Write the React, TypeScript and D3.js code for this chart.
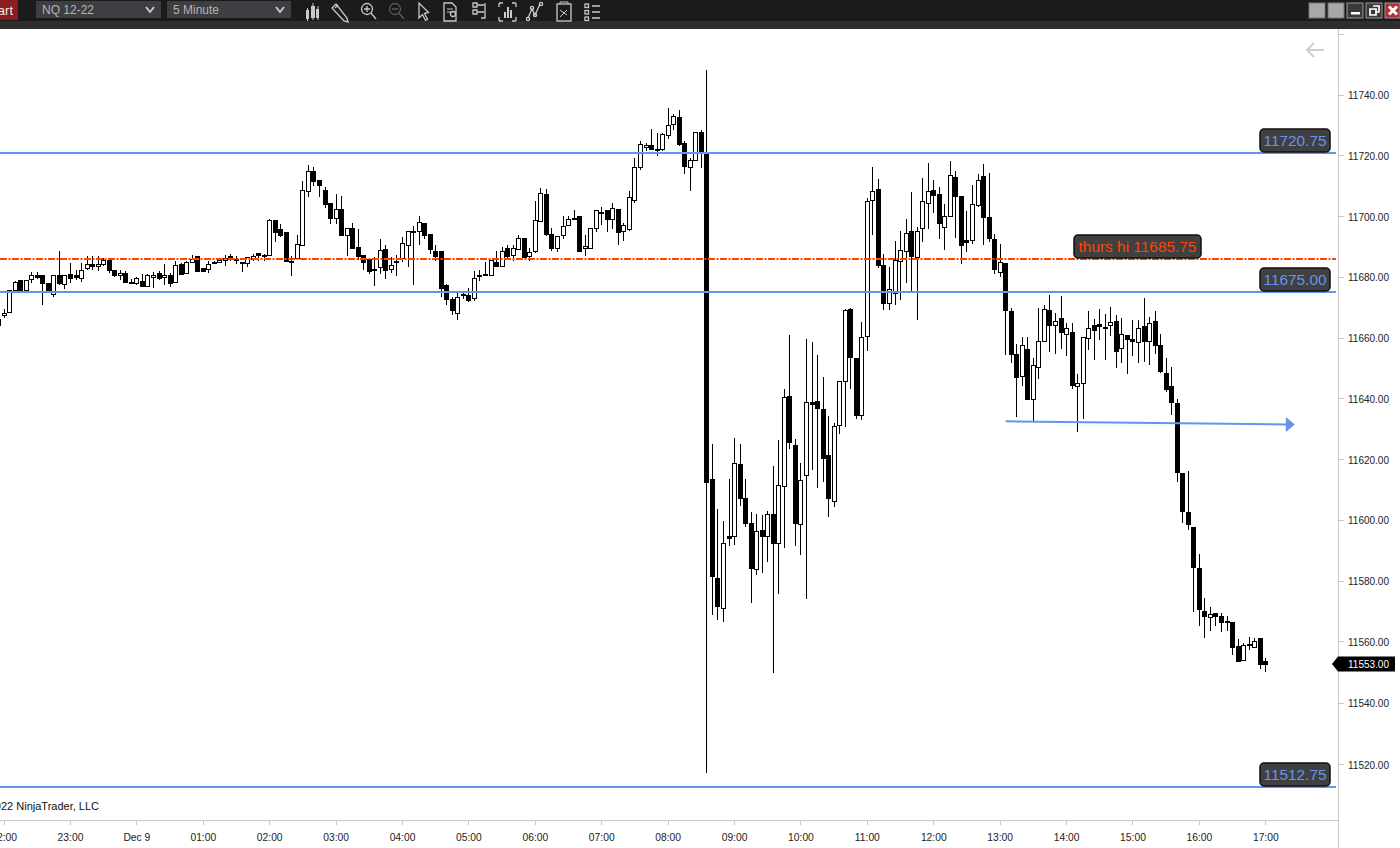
import React from "react";
import * as d3 from "d3";

type Bar = [number, number, number, number];

// Every bar is [open, high, low, close], 5 minute bars, first one at 21:55
const overnightA: Bar[] = [
  [11664.5,11668,11663,11666.5],[11667.5,11669.5,11666.75,11668.25],[11668.5,11676,11668.5,11675.75],[11676,11678.75,11675.5,11678.5],
  [11679,11679,11675.5,11675.5],[11675.75,11679,11675.75,11679],[11679.5,11681.75,11678.25,11680.75],[11680.75,11681.75,11679.5,11680.25],
  [11680.75,11680.75,11671,11678],[11678,11678,11674.75,11675.5],[11674.5,11680.75,11673.5,11680.75],[11680.75,11688.75,11677.5,11678.25],
  [11677.75,11680.75,11676.25,11680.75],[11681,11684.75,11678,11679.75],[11680.75,11682.5,11679.25,11680],[11679.75,11684.75,11678.5,11682.5],
  [11683,11687,11682.5,11684.5],[11684.5,11687,11682.5,11683.75],[11683.75,11687,11682,11684.25],[11684.5,11686.5,11683.75,11685.75],
  [11685.75,11685.75,11681.5,11682.5],[11682.5,11682.5,11680,11680.75],[11680.75,11682.5,11679.25,11681.5],[11681.5,11682,11678.5,11678.5],
  [11678.5,11679.5,11678,11678.5],[11678.25,11680.25,11677.5,11679.75],[11678.75,11681.25,11677,11677.25],[11677.25,11681.25,11677.25,11680.75],
  [11680,11681.75,11676.5,11680.75],[11681.5,11682,11679.25,11679.75],[11680,11684.5,11677.5,11680.75],[11680.75,11681.5,11677,11678],
  [11678.5,11685.25,11678.25,11684],[11684.5,11684.75,11680.75,11681],[11681.5,11685.25,11681,11685],[11685,11687.5,11684.75,11686],
  [11687,11687,11682,11682.25],[11683,11683,11681.75,11682],[11682.75,11685.25,11681.5,11684.5],[11685,11685.5,11684.25,11684.75],
  [11685,11686,11684.75,11685.75],[11685.75,11687.5,11683.75,11686.5],[11687,11687.75,11685.25,11686.5],[11686,11687,11684.25,11685.75],
];

const overnightB: Bar[] = [
  [11685,11685,11681.75,11684.75],[11684.75,11686.75,11683.5,11686.75],[11686,11687.75,11685.5,11687],[11688,11688,11685.5,11687.5],
  [11687.25,11687.75,11685.5,11687.25],[11687.25,11699,11687,11698.75],[11698.75,11698.75,11691.5,11695],[11696,11697.5,11693.25,11693.75],
  [11695,11695,11685,11685.25],[11685,11687,11680.5,11685.5],[11686.5,11693.75,11686.25,11691],[11690.5,11711.75,11690.25,11708.75],
  [11708.25,11717,11706.25,11715],[11715,11716.25,11710,11711.5],[11712,11712,11706.25,11710.25],[11708.75,11709.75,11702.75,11704],
  [11704.25,11704.25,11697.5,11699.5],[11699.5,11707.25,11697.5,11702.5],[11702.5,11706.75,11693.75,11693.75],[11693.75,11696.25,11687,11696.25],
  [11696.25,11697.75,11689.5,11689.75],[11690,11695.75,11685.75,11687],[11687.25,11687.25,11682.5,11685],[11686,11686,11681,11682.25],
  [11682.75,11686.75,11677.25,11682.5],[11683.25,11692.5,11681.25,11689],[11689.25,11690.75,11679.5,11682.5],[11682.75,11686.75,11681.5,11684],
  [11685,11687.25,11680.5,11685.5],[11686.25,11693.25,11685,11691.25],[11690.75,11695.25,11683.5,11695.25],[11695.25,11697,11677.5,11695.25],
  [11695.25,11700,11690.75,11698.25],[11697.75,11697.75,11692.5,11694],[11694.25,11694.25,11687.75,11689.25],[11688.75,11690.75,11685.5,11687],
  [11688.75,11688.75,11673.5,11676.5],[11677.5,11677.75,11671,11673],[11672.75,11673.5,11667.75,11669.25],[11668.25,11675,11666,11673.5],
  [11674.5,11675.5,11672.75,11674.5],[11674.25,11676.5,11672,11672.5],[11673.25,11682.25,11672.25,11679.75],[11680.75,11682.5,11678.75,11680.5],
];

const preMarket: Bar[] = [
  [11681,11685,11680.75,11681.25],[11680.75,11685.75,11680.5,11685.75],[11685,11688.75,11683.5,11683.75],[11683.75,11690,11683.5,11688.75],
  [11689.5,11690.5,11686.5,11687],[11687.5,11690.5,11685.25,11689.75],[11689.25,11693.75,11689,11693],[11693,11693,11686.25,11686.75],
  [11687,11689.75,11685.5,11688.25],[11688.5,11705,11688,11698.75],[11698.5,11709.25,11698.25,11707.75],[11707.25,11709,11693.5,11694.25],
  [11694.25,11696.25,11688.75,11689.5],[11689.75,11693.5,11688.25,11693.5],[11694,11700,11692.5,11696.75],[11697.25,11700,11696.75,11699.25],
  [11699.5,11702.25,11698.75,11699.25],[11700.25,11700.25,11688.5,11688.75],[11689.75,11694,11687,11690.25],[11689.75,11696.25,11689.5,11696.25],
  [11696.25,11702,11694.75,11702],[11701.5,11703,11697.25,11701.25],[11702,11702,11694.75,11699.25],[11699.25,11704.25,11695.75,11702.75],
  [11702.5,11702.5,11690.5,11695],[11695.25,11698,11692,11697.25],[11695.75,11708.25,11695.25,11706.25],[11705.5,11719.25,11704.25,11716.25],
  [11716.25,11724.75,11715.25,11723.75],[11722.75,11724.25,11721.5,11723.5],[11723.5,11728.75,11721.75,11722],[11722.25,11727.5,11719.75,11722],
  [11722,11727.5,11721.5,11727],[11726.75,11735.5,11725.25,11730],[11730.25,11733.5,11728.25,11733],[11732.75,11735,11723,11723.75],
  [11724,11724.75,11714,11716.5],[11716.25,11719.25,11708.25,11718.5],[11718.5,11727.75,11718.25,11727.75],[11727.75,11728.5,11715.75,11721.25],
  [11720.5,11748,11517.25,11613],
];

const morning: Bar[] = [
  [11614,11625.25,11569.25,11582],[11581.25,11604,11567.5,11572.25],[11571.5,11600,11567,11592.75],[11595.25,11614,11591.75,11594.5],
  [11595.25,11627.25,11592.25,11619],[11618.75,11625.25,11605,11607.5],[11607.5,11613.75,11598,11599.25],[11599.25,11603,11573.25,11584.5],
  [11584.25,11602.25,11582.25,11596.75],[11597,11602,11583,11595],[11595,11603.25,11586.5,11602.5],[11602.25,11618.25,11550.25,11592.75],
  [11593,11626.75,11576,11611.75],[11611.5,11643.25,11591.25,11640.75],[11641,11661.25,11623.75,11626],[11625,11627,11591.75,11599.25],
  [11599,11619,11589,11613.5],[11615,11659.75,11574.5,11639],[11639.25,11658.75,11616.75,11638.5],[11639.5,11654.5,11611,11637],
  [11636.75,11647.25,11612.75,11620.75],[11621.75,11634.5,11601.5,11607.75],[11606.75,11632.25,11604.5,11631.25],[11631.5,11646,11628.75,11646],
  [11646,11669.5,11631,11669.25],[11669.75,11670,11643.5,11653.75],[11653.5,11653.5,11633.5,11634.75],[11634.75,11665.25,11633.25,11660.5],
  [11660.75,11706,11656,11705],[11705.5,11716.25,11693.75,11708.25],[11709,11712.25,11683,11684],[11684,11687.75,11669.25,11671.75],
  [11671.75,11683.5,11669.25,11676.25],[11674.75,11692,11671,11685.75],[11685.5,11695.25,11672.5,11689],[11688.5,11699,11678.25,11694.5],
  [11695.25,11708,11674.75,11687],[11686.75,11696.5,11666,11695.25],[11696.25,11712.5,11691.75,11705],[11704.5,11717.5,11696,11708.25],
  [11708.75,11712,11701.25,11707],[11707.5,11709.75,11692.75,11698],[11696.5,11704,11689,11700.25],[11700.25,11718.25,11700,11713.75],
  [11713,11715,11693,11706.75],[11706.75,11706.75,11684.5,11690.75],[11692.25,11701.75,11688.25,11691.75],[11692.25,11710.25,11691,11704],
  [11703.75,11714,11703,11712],[11713.25,11717.25,11690.75,11699.75],[11699.75,11714.25,11691.75,11693],[11692.5,11694.25,11681,11682.75],
  [11681.75,11691,11680,11685],[11684.75,11684.75,11654.5,11669.25],[11669,11670,11651.75,11654.75],[11654.75,11658,11634.25,11647.25],
];

const afternoon: Bar[] = [
  [11647.5,11660.5,11644.25,11657.75],[11656.5,11660.5,11640,11640],[11640,11653.5,11632.75,11651.25],[11650.5,11670,11646.5,11659],
  [11659.25,11671,11658.75,11669.5],[11669.25,11674.25,11655.5,11664.25],[11664.5,11668.25,11655,11665.75],[11666.75,11674,11656.5,11662],
  [11661.5,11665,11654.25,11663.25],[11662,11665,11643.25,11644.75],[11644.5,11648.25,11629.25,11645.25],[11645.25,11660.5,11633.5,11660.5],
  [11660.25,11669,11656.25,11663.25],[11664.25,11666.5,11652.75,11662.75],[11664.75,11669.5,11659.5,11664],[11663.75,11668,11652.75,11663.25],
  [11664.5,11670.25,11660.75,11665.25],[11665.75,11667.5,11650.25,11655.75],[11656.75,11666.75,11652,11661.5],[11661,11661,11648.25,11659.75],
  [11659.75,11666,11654.25,11659],[11658.75,11666,11651.75,11663.25],[11664,11673.25,11652.25,11659],[11659,11667,11651.25,11665],
  [11665.75,11669,11655,11657.75],[11657.75,11661.5,11648.75,11649.25],[11648.5,11653.5,11642.25,11643.5],[11644.25,11650.5,11635,11639.25],
  [11638.75,11640,11612.75,11616],[11615.75,11615.75,11599.25,11603.25],[11603,11616.5,11597,11599],[11598,11598,11570.25,11585],
  [11584.5,11589.25,11565.5,11571.25],[11570.5,11574.75,11561.75,11568.75],[11568.5,11571.75,11564,11569.5],[11570,11570,11565.75,11569],
  [11569,11570,11563.75,11567],[11567.25,11568.75,11564,11567],[11567,11567,11556.25,11558.75],[11559,11561.5,11554,11554.25],
  [11554.5,11560,11554.5,11559.5],[11559.5,11562,11557.75,11559.75],[11558.75,11561.75,11558.5,11560.75],[11561.75,11561.75,11551.5,11553.25],
  [11554.25,11555,11550.5,11553],
];

const priceTicks = [11760, 11740, 11720, 11700, 11680, 11660, 11640, 11620, 11600, 11580, 11560, 11540, 11520];
const timeTicks = [-120, -60, 0, 60, 120, 180, 240, 300, 360, 420, 480, 540, 600, 660, 720, 780, 840, 900, 960, 1020];
const timeLabels = ["22:00", "23:00", "Dec 9", "01:00", "02:00", "03:00", "04:00", "05:00", "06:00", "07:00", "08:00", "09:00", "10:00", "11:00", "12:00", "13:00", "14:00", "15:00", "16:00", "17:00"];
const levelPrices = [11720.75, 11675.0, 11512.75];
const levelLabels = ["11720.75", "11675.00", "11512.75"];
const thursHigh = 11685.75;
const thursLabel = "thurs hi 11685.75";
const rayPrices = [11632.75, 11631.75];
const rayMinutes = [785, 1039];
const lastPrice = 11553;
const firstBarMinute = -125;

const BLUE = "#6495ED";
const ORANGE = "#FF4500";
const SANS = "'Liberation Sans', Arial, sans-serif";
const bars: Bar[] = [...overnightA, ...overnightB, ...preMarket, ...morning, ...afternoon];

const y = d3.scaleLinear().domain([11740, 11520]).range([94.5, 765]);
// The printed axis of the reference is not spaced quite like its marks
const axisY = d3.scaleLinear().domain([11760, 11740, 11560, 11520]).range([34.3, 94.7, 641.3, 764]);
const x = d3.scaleLinear().domain([0, 1020]).range([136.9, 1265.8]);
const AXIS_X = 1338;
const AXIS_Y = 820;

function Candle({ bar, i }: { bar: Bar; i: number }) {
  const [o, h, l, c] = bar;
  const cx = Math.floor(x(firstBarMinute + 5 * i));
  const up = c > o;
  const top = Math.round(y(Math.max(o, c)));
  const bot = Math.round(y(Math.min(o, c)));
  return (
    <g shapeRendering="crispEdges">
      <line x1={cx + 0.5} x2={cx + 0.5} y1={Math.round(y(h))} y2={Math.round(y(l))} stroke="#000" strokeWidth={1} />
      <rect x={cx - 1.5} y={top + 0.5} width={4} height={Math.max(bot - top, 1)} fill={up ? "#fff" : "#000"} stroke="#000" strokeWidth={1} />
    </g>
  );
}

function Dropdown({ bx, w, label }: { bx: number; w: number; label: string }) {
  return (
    <g>
      <rect x={bx} y={1} width={w} height={17} fill="#3d3d42" />
      <text x={bx + 6} y={14} fill="#b4b4b4" fontFamily={SANS} fontSize={12}>{label}</text>
      <path d={`M${bx + w - 15} 7 l4 5 l4 -5`} fill="none" stroke="#c8c8c8" strokeWidth={2} />
    </g>
  );
}

function Toolbar() {
  const c = "#c9c9c9";
  return (
    <g>
      <rect x={0} y={0} width={1400} height={21} fill="#1b1b1b" />
      <rect x={0} y={21} width={1400} height={8} fill="#2e2e2e" />
      <rect x={0} y={0} width={18} height={20} fill="#8c1c20" />
      <text x={13} y={15} textAnchor="end" fill="#e8e8e8" fontFamily={SANS} fontSize={13}>Chart</text>
      <Dropdown bx={36} w={125} label="NQ 12-22" />
      <Dropdown bx={167} w={124} label="5 Minute" />
      <g fill="none" stroke={c} strokeWidth={1.3}>
        <path d="M307.5 8v13M313 3v17M318 6v14" strokeWidth={1} />
        <rect x={306} y={10} width={3} height={9} fill={c} stroke="none" />
        <rect x={311} y={6} width={4} height={12} fill={c} stroke="none" />
        <rect x={316} y={9} width={3} height={9} fill={c} stroke="none" />
        <path d="M332 8l4 -4l11 14l1 4l-4 -1z" />
        <path d="M335 8l3 -3" />
        <circle cx={367} cy={9} r={5.5} />
        <path d="M364 9h6M367 6v6M371 13l5 6" />
        <circle cx={395} cy={9} r={5.5} stroke="#5a5a5a" />
        <path d="M392 9h6M399 13l5 6" stroke="#5a5a5a" />
        <path d="M419 3v15l3.5 -3.5l3 6l2 -1l-3 -6l4 -1z" />
        <path d="M444 3h8l4 4v14h-12z" />
        <path d="M447 9h6M447 12h4" strokeWidth={1} />
        <circle cx={453} cy={14} r={2.5} />
        <path d="M473 3h4v4h-4zM473 10h4v4h-4zM477 5h7M477 12h7M485 3v15h-4" />
        <path d="M499 3h4M499 3v4M516 3h-4M516 3v4M499 21v-4M499 21h4M516 21h-4M516 21v-4" />
        <path d="M505 18v-6M508 18v-11M511 18v-8" strokeWidth={2} />
        <path d="M528 18l4 -9l3 6l5 -11" />
        <circle cx={528} cy={19} r={1.6} /><circle cx={532} cy={8} r={1.6} /><circle cx={535} cy={15} r={1.6} /><circle cx={541} cy={4} r={1.6} />
        <rect x={557} y={4} width={14} height={17} />
        <path d="M560 4v-2h8v2M560 10l7 5M567 10l-7 7" strokeWidth={1} />
        <rect x={585} y={4} width={3.5} height={3.5} /><rect x={585} y={10.5} width={3.5} height={3.5} /><rect x={585} y={17} width={3.5} height={3.5} />
        <path d="M592 6h8M592 12h8M592 18h8" />
      </g>
      <rect x={1309} y={3} width={16} height={15} fill="#a9a7a7" stroke="#777" />
      <rect x={1328} y={3} width={16} height={15} fill="#a9a7a7" stroke="#777" />
      <rect x={1347} y={3} width={16} height={15} fill="#3a3a3a" stroke="#999" />
      <rect x={1351} y={12} width={9} height={2.5} fill="#fff" />
      <rect x={1366} y={3} width={16} height={15} fill="#3a3a3a" stroke="#999" />
      <path d="M1373 6h6v6h-3M1370 9h6v6h-6z" fill="none" stroke="#fff" strokeWidth={1.7} />
      <rect x={1385} y={3} width={15} height={15} fill="#b03038" stroke="#999" />
      <path d="M1389 6.5l8 8M1397 6.5l-8 8" stroke="#fff" strokeWidth={3} />
    </g>
  );
}

function PriceLabel({ lx, w, ly, text, color }: { lx: number; w: number; ly: number; text: string; color: string }) {
  return (
    <g>
      <rect x={lx} y={ly} width={w} height={23} rx={4} fill="#404040" stroke="#111" strokeWidth={1.5} />
      <text x={lx + w / 2} y={ly + 17} textAnchor="middle" fill={color} fontFamily={SANS} fontSize={15.4}>{text}</text>
    </g>
  );
}

export default function App() {
  const rx0 = x(rayMinutes[0]);
  const rx1 = x(rayMinutes[1]);
  const ry0 = y(rayPrices[0]);
  const ry1 = y(rayPrices[1]);
  const lastY = Math.floor(y(lastPrice));
  return (
    <svg width={1400} height={848} viewBox="0 0 1400 848" style={{ position: "fixed", left: 0, top: 0, background: "#fff" }}>
      <rect x={0} y={29} width={1400} height={819} fill="#fff" />

      {bars.map((b, i) => <Candle key={i} bar={b} i={i} />)}

      <line x1={0} x2={1336} y1={Math.floor(y(thursHigh))} y2={Math.floor(y(thursHigh))} stroke={ORANGE} strokeWidth={2} strokeDasharray="7 1.5 2 1.5" />
      {levelPrices.map((p) => (
        <line key={p} x1={0} x2={1336} y1={Math.floor(y(p))} y2={Math.floor(y(p))} stroke={BLUE} strokeWidth={2} />
      ))}
      <line x1={rx0} x2={rx1} y1={ry0} y2={ry1} stroke={BLUE} strokeWidth={2} />
      <path d={`M${rx1 - 1} ${ry1 - 7.5} L${rx1 + 8} ${ry1} L${rx1 - 1} ${ry1 + 7.5} Z`} fill={BLUE} />

      <path d="M1307 50h17M1314 43l-7 7l7 7" fill="none" stroke="#cfcfcf" strokeWidth={2} />

      {levelPrices.map((p, i) => (
        <PriceLabel key={p} lx={1260} w={70} ly={Math.floor(y(p)) - 24} text={levelLabels[i]} color={BLUE} />
      ))}
      <PriceLabel lx={1074} w={127} ly={Math.floor(y(thursHigh)) - 24} text={thursLabel} color={ORANGE} />

      <text x={99} y={810} textAnchor="end" fontFamily={SANS} fontSize={11} fill="#111">© 2022 NinjaTrader, LLC</text>

      <g shapeRendering="crispEdges">
        <line x1={AXIS_X + 0.5} x2={AXIS_X + 0.5} y1={29} y2={848} stroke="#c8c8c8" />
        <line x1={0} x2={AXIS_X} y1={AXIS_Y + 0.5} y2={AXIS_Y + 0.5} stroke="#c8c8c8" />
      </g>
      {priceTicks.map((p) => (
        <g key={p}>
          <line x1={AXIS_X} x2={AXIS_X + 6} y1={Math.round(axisY(p)) + 0.5} y2={Math.round(axisY(p)) + 0.5} stroke="#c8c8c8" shapeRendering="crispEdges" />
          {p < 11750 && (
            <text x={1348} y={axisY(p) + 4.5} fontFamily={SANS} fontSize={10} fill="#222">{p.toFixed(2)}</text>
          )}
        </g>
      ))}
      {timeTicks.map((t, i) => (
        <g key={t}>
          <line x1={Math.floor(x(t)) + 0.5} x2={Math.floor(x(t)) + 0.5} y1={AXIS_Y} y2={AXIS_Y + 5} stroke="#c8c8c8" shapeRendering="crispEdges" />
          <text x={x(t)} y={841} textAnchor="middle" fontFamily={SANS} fontSize={10.3} fill="#222">{timeLabels[i]}</text>
        </g>
      ))}

      <path d={`M1332 ${lastY} L1338 ${lastY - 7.5} H1395 V${lastY + 7.5} H1338 Z`} fill="#000" />
      <text x={1348} y={lastY + 4} fontFamily={SANS} fontSize={10} fill="#fff">{lastPrice.toFixed(2)}</text>

      <Toolbar />
    </svg>
  );
}
